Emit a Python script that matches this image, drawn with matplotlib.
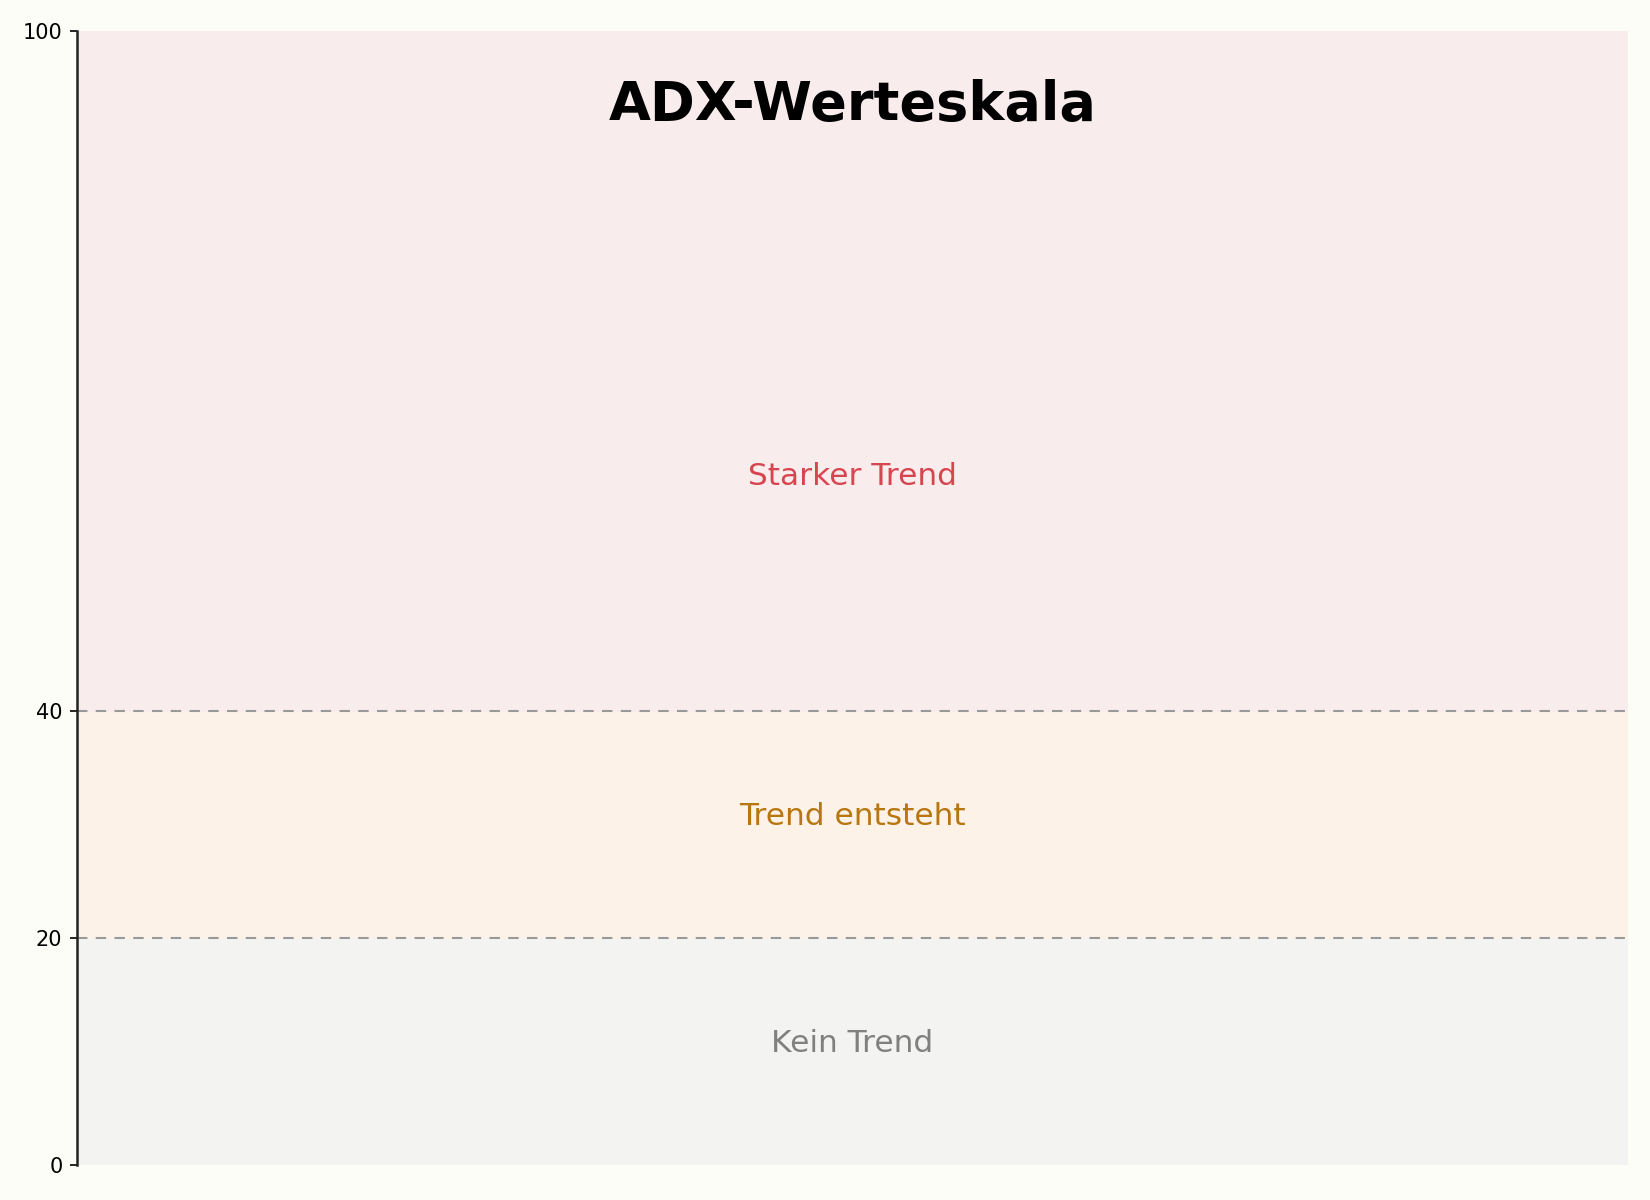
import matplotlib
matplotlib.use("Agg")
from matplotlib import pyplot as plt

# zones of the ADX scale
zone_names = ["Kein Trend", "Trend entsteht", "Starker Trend"]
zone_lo = [0, 20, 40]
zone_hi = [20, 40, 100]
zone_label_y = [10, 30, 60]
zone_fill = ["#f3f3f1", "#fcf2e8", "#f9ecec"]
zone_text = ["#808080", "#b8760e", "#d64550"]
thresholds = [20, 40]
ytick_vals = [0, 20, 40, 100]

fig = plt.figure(figsize=(11, 8), dpi=150, facecolor="#fdfdf8")
ax = fig.add_axes([77 / 1650, 1 - 1165 / 1200, (1628 - 77) / 1650, (1165 - 31) / 1200])
ax.set_facecolor("#fdfdf8")

for lo, hi, fc, name, ly, tc in zip(zone_lo, zone_hi, zone_fill, zone_names, zone_label_y, zone_text):
    ax.axhspan(lo, hi, facecolor=fc, edgecolor=fc, linewidth=0.8)
    ax.annotate(name, (0.5, ly), xytext=(0, 4), textcoords="offset points",
                ha="center", va="center", fontsize=15, color=tc)

for t in thresholds:
    ax.axhline(t, color="#999999", linestyle=(0, (5, 4)), linewidth=1.0)

ax.text(0.5, 93.5, "ADX-Werteskala", ha="center", va="center",
        fontsize=26, fontweight="bold", color="black")

ax.set_xlim(0, 1)
ax.set_ylim(0, 100)
ax.set_yticks(ytick_vals)
ax.tick_params(axis="y", labelsize=10, colors="black")
ax.set_xticks([])
for side in ["top", "right", "bottom"]:
    ax.spines[side].set_visible(False)
ax.spines["left"].set_color("#222222")
ax.spines["left"].set_linewidth(1.2)

plt.savefig("out.png", dpi=150, facecolor=fig.get_facecolor())
